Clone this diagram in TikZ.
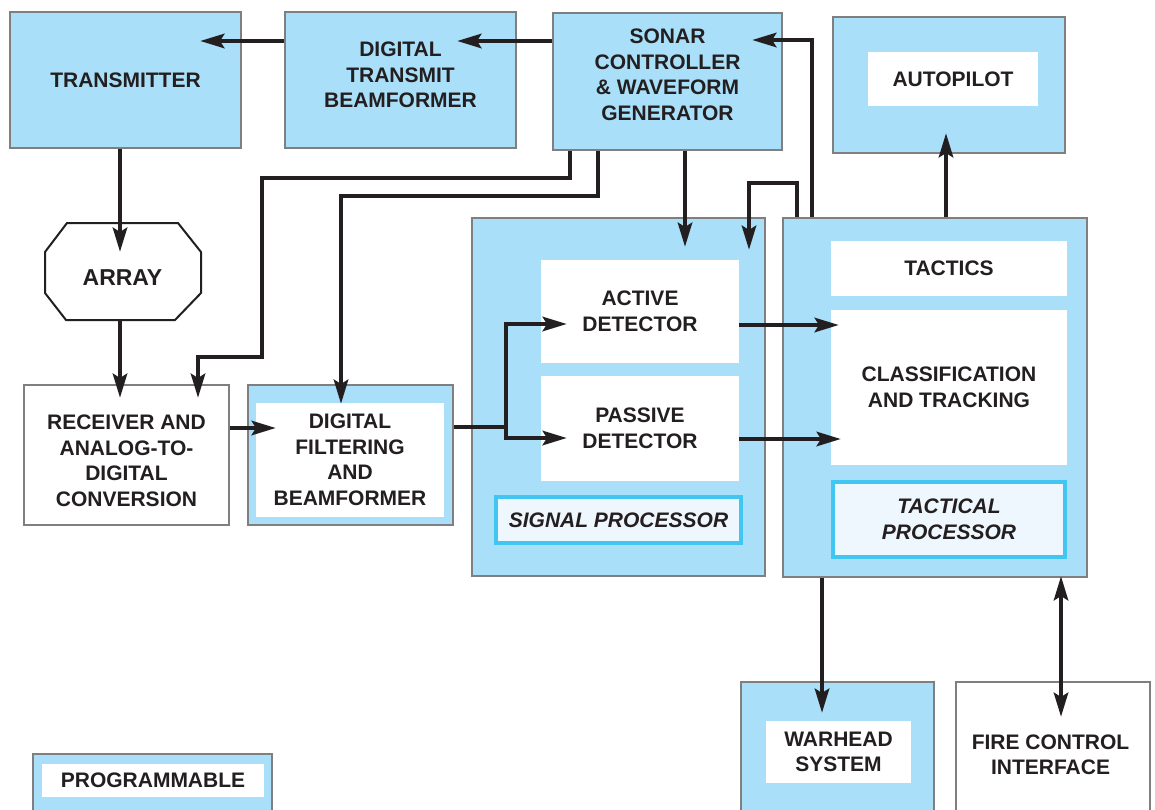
\documentclass[tikz,border=0pt]{standalone}
\usepackage{fontspec}
\setmainfont{Liberation Sans}
\usetikzlibrary{arrows.meta}
\definecolor{pblue}{HTML}{A9DFF8}
\definecolor{bgray}{HTML}{7F7F80}
\definecolor{cyanb}{HTML}{40C6F1}
\definecolor{lightf}{HTML}{EEF7FD}
\definecolor{ink}{HTML}{231F20}
\begin{document}
\begin{tikzpicture}[x=1pt,y=-1pt,
  every node/.style={font=\fontsize{21}{25.5}\selectfont\bfseries, text=ink, align=center, inner sep=0pt},
  box/.style={draw=bgray, line width=2.2pt, fill=pblue},
  wbox/.style={draw=bgray, line width=2.2pt, fill=white},
  inbox/.style={fill=white},
  octo/.style={draw=ink, line width=2pt, fill=white},
  lbl/.style={draw=cyanb, line width=4pt, fill=lightf, font=\fontsize{21}{25.5}\selectfont\bfseries\itshape},
  tipa/.tip={Stealth[length=24pt,width=14pt,inset=4pt]},
  wire/.style={draw=ink, line width=4.8pt},
  arr/.style={wire, -tipa},
  dblarr/.style={wire, tipa-tipa}
]
\useasboundingbox (0,0) rectangle (1155,809);
\fill[white] (0,0) rectangle (1155,809);

% top row
\node[box, minimum width=231, minimum height=136] (tx) at (125.5,80) {TRANSMITTER};
\node[box, minimum width=231, minimum height=136] (dtb) at (400.5,80) {};
\node (dtbt) at (400.5,75) {DIGITAL\\TRANSMIT\\BEAMFORMER};
\node[box, minimum width=229, minimum height=137] (sonar) at (667.5,81.5) {};
\node (sonart) at (667.5,75) {SONAR\\CONTROLLER\\\& WAVEFORM\\GENERATOR};
\node[box, minimum width=232, minimum height=136] (apout) at (949,85) {};
\node[inbox, minimum width=170, minimum height=54] (ap) at (953,79) {AUTOPILOT};

% array
\draw[octo] (67,223) -- (178,223) -- (201,252) -- (201,293) -- (175,320) -- (66,320) -- (45,293) -- (45,252) -- cycle;
\node[minimum width=156, minimum height=97] (array) at (123,271.5) {};
\node[font=\fontsize{23}{26}\selectfont\bfseries] (arrayt) at (122.5,278) {ARRAY};

% receiver and filtering
\node[wbox, minimum width=205, minimum height=140] (rx) at (126.5,455) {};
\node (rxt) at (126.5,461) {RECEIVER AND\\ANALOG-TO-\\DIGITAL\\CONVERSION};
\node[box, minimum width=205, minimum height=140] (dfbout) at (350.5,455) {};
\node[inbox, minimum width=188, minimum height=114] (dfb) at (350,460) {DIGITAL\\FILTERING\\AND\\BEAMFORMER};

% signal processor
\node[box, minimum width=293, minimum height=358] (spout) at (618.5,397) {};
\node[inbox, minimum width=198, minimum height=103] (act) at (640,311.5) {ACTIVE\\DETECTOR};
\node[inbox, minimum width=198, minimum height=105] (pas) at (640,428.5) {PASSIVE\\DETECTOR};
\node[lbl, minimum width=245, minimum height=46] (splbl) at (618.5,520) {SIGNAL PROCESSOR};

% tactical processor
\node[box, minimum width=304, minimum height=359] (tpout) at (935,397.5) {};
\node[inbox, minimum width=236, minimum height=55] (tac) at (949,268.5) {TACTICS};
\node[inbox, minimum width=236, minimum height=155] (cls) at (949,387.5) {CLASSIFICATION\\AND TRACKING};
\node[lbl, minimum width=232, minimum height=75] (tplbl) at (949,519.5) {TACTICAL\\PROCESSOR};

% bottom
\node[box, minimum width=193, minimum height=136] (whout) at (837.5,750) {};
\node[inbox, minimum width=145, minimum height=62] (wh) at (838.5,752) {WARHEAD\\SYSTEM};
\node[wbox, minimum width=194, minimum height=136] (fc) at (1053,750) {};
\node (fct) at (1050.5,755) {FIRE CONTROL\\INTERFACE};
\node[box, minimum width=239, minimum height=72] (prout) at (152.5,790) {};
\node[inbox, minimum width=222, minimum height=33] (pr) at (153,780.5) {PROGRAMMABLE};

% connectors
\coordinate (c1) at (457,41);
\draw[arr] (sonar.west |- c1) -- (c1);
\coordinate (c2) at (200,41);
\draw[arr] (dtb.west |- c2) -- (c2);
\coordinate (c3) at (120,252);
\draw[arr] (tx.south -| c3) -- (c3);
\coordinate (c4) at (120,398);
\draw[arr] (array.south -| c4) -- (c4);
\coordinate (c5) at (198,398);
\draw[arr] (sonar.south -| 570,0) |- (262,178) |- (198,357) -- (c5);
\coordinate (c6) at (341,404);
\draw[arr] (sonar.south -| 598,0) |- (341,196) -- (c6);
\coordinate (c7) at (276,428);
\draw[arr] (rx.east |- c7) -- (c7);
\coordinate (c8) at (567,324);
\coordinate (c9) at (567,438);
\draw[wire] (dfbout.east |- 0,427) -- (508,427);
\draw[arr] (506,429) |- (c8);
\draw[arr] (506,425) |- (c9);
\coordinate (c10) at (685,247);
\draw[arr] (sonar.south -| c10) -- (c10);
\coordinate (c11) at (749,250);
\draw[arr] (tpout.north -| 797,0) |- (749,183) -- (c11);
\coordinate (c12) at (752,40);
\draw[arr] (tpout.north -| 812,0) |- (c12);
\coordinate (c13) at (946,133);
\draw[arr] (tpout.north -| c13) -- (c13);
\coordinate (c14) at (839,325);
\draw[arr] (act.east |- c14) -- (c14);
\coordinate (c15) at (841,439);
\draw[arr] (pas.east |- c15) -- (c15);
\coordinate (c16) at (822,713);
\draw[arr] (tpout.south -| c16) -- (c16);
\coordinate (c17) at (1061,576);
\coordinate (c18) at (1061,717);
\draw[dblarr] (c17) -- (c18);
\end{tikzpicture}
\end{document}
